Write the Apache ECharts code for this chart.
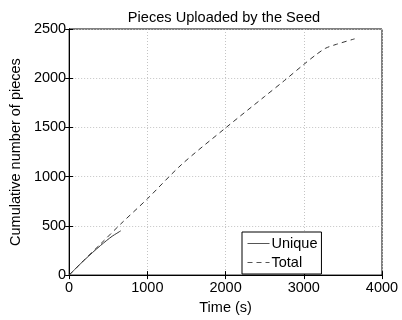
<!DOCTYPE html>
<html>
<head>
<meta charset="utf-8">
<script src="https://cdn.jsdelivr.net/npm/echarts@6/dist/echarts.min.js"></script>
<style>
  html, body { margin: 0; padding: 0; background: #fff; }
  #chart { width: 402px; height: 320px; }
</style>
</head>
<body>
<div id="chart"></div>
<script>
// data
const uniqueTime = [0, 100, 200, 300, 400, 480, 550, 610, 660];
const uniqueVal = [0, 80, 157, 230, 300, 352, 395, 425, 450];
const totalTime = [0, 200, 400, 660, 1000, 1440, 2000, 2500, 2750, 3000, 3150, 3280, 3420, 3650];
const totalVal = [0, 160, 315, 520, 775, 1125, 1495, 1815, 1975, 2140, 2235, 2305, 2345, 2400];
const xTicks = [0, 1000, 2000, 3000, 4000];
const yTicks = [0, 500, 1000, 1500, 2000, 2500];

function pairs(xs, ys) {
  return xs.map((x, i) => [x, ys[i]]);
}

const font = "Liberation Sans, Arial, sans-serif";
const chart = echarts.init(document.getElementById("chart"));

const option = {
  animation: false,
  title: {
    text: "Pieces Uploaded by the Seed",
    left: 219,
    textAlign: "center",
    top: 5,
    textStyle: { fontFamily: font, fontSize: 14.6, fontWeight: "normal", color: "#000" },
  },
  grid: {
    left: 55,
    right: 20,
    top: 29,
    bottom: 35,
    show: true,
    borderColor: "#000",
    borderWidth: 1,
  },
  legend: {
    left: 242,
    top: 232,
    orient: "vertical",
    backgroundColor: "#fff",
    borderColor: "#000",
    borderWidth: 1,
    borderRadius: 0,
    padding: [4, 4, 4, 5],
    itemGap: 4,
    itemWidth: 22,
    itemHeight: 14,
    itemStyle: { opacity: 0 },
    lineStyle: { width: 1, color: "#555" },
    textStyle: { fontFamily: font, fontSize: 14.5, color: "#000", padding: [0, 0, 0, -3] },
    data: ["Unique", "Total"],
  },
  xAxis: [
    {
      type: "value",
      min: xTicks[0],
      max: xTicks[xTicks.length - 1],
      interval: 1000,
      name: "Time (s)",
      nameLocation: "middle",
      nameGap: 22,
      nameTextStyle: { fontFamily: font, fontSize: 14.5, color: "#000" },
      axisLine: { show: true, lineStyle: { color: "#000", width: 1 } },
      axisTick: { show: true, inside: true, length: 4, lineStyle: { color: "#000" } },
      axisLabel: { fontFamily: font, fontSize: 14.5, color: "#000", margin: 5, formatter: (v) => String(v) },
      splitLine: { show: true, lineStyle: { color: "#c4c4c4", type: [1, 2], width: 1 } },
    },
    {
      type: "value",
      position: "top",
      min: xTicks[0],
      max: xTicks[xTicks.length - 1],
      interval: 1000,
      axisLine: { show: true, lineStyle: { color: "#000", width: 1 } },
      axisTick: { show: true, inside: true, length: 4, lineStyle: { color: "#000" } },
      axisLabel: { show: false },
      splitLine: { show: false },
    },
  ],
  yAxis: [
    {
      type: "value",
      min: yTicks[0],
      max: yTicks[yTicks.length - 1],
      interval: 500,
      name: "Cumulative number of pieces",
      nameLocation: "middle",
      nameGap: 38,
      nameTextStyle: { fontFamily: font, fontSize: 14.5, color: "#000" },
      axisLine: { show: true, lineStyle: { color: "#000", width: 1 } },
      axisTick: { show: true, inside: true, length: 4, lineStyle: { color: "#000" } },
      axisLabel: { fontFamily: font, fontSize: 14.5, color: "#000", margin: 3, formatter: (v) => String(v) },
      splitLine: { show: true, lineStyle: { color: "#c4c4c4", type: [1, 2], width: 1 } },
    },
    {
      type: "value",
      position: "right",
      min: yTicks[0],
      max: yTicks[yTicks.length - 1],
      interval: 500,
      axisLine: { show: true, lineStyle: { color: "#000", width: 1 } },
      axisTick: { show: true, inside: true, length: 4, lineStyle: { color: "#000" } },
      axisLabel: { show: false },
      splitLine: { show: false },
    },
  ],
  series: [
    {
      name: "Unique",
      type: "line",
      symbol: "none",
      smooth: 0.3,
      lineStyle: { color: "#333", width: 1, type: "solid" },
      itemStyle: { color: "#333" },
      data: pairs(uniqueTime, uniqueVal),
    },
    {
      name: "Total",
      type: "line",
      symbol: "none",
      smooth: 0.3,
      lineStyle: { color: "#333", width: 1, type: [5, 4] },
      itemStyle: { color: "#333" },
      data: pairs(totalTime, totalVal),
    },
  ],
};

chart.setOption(option);
</script>
</body>
</html>
